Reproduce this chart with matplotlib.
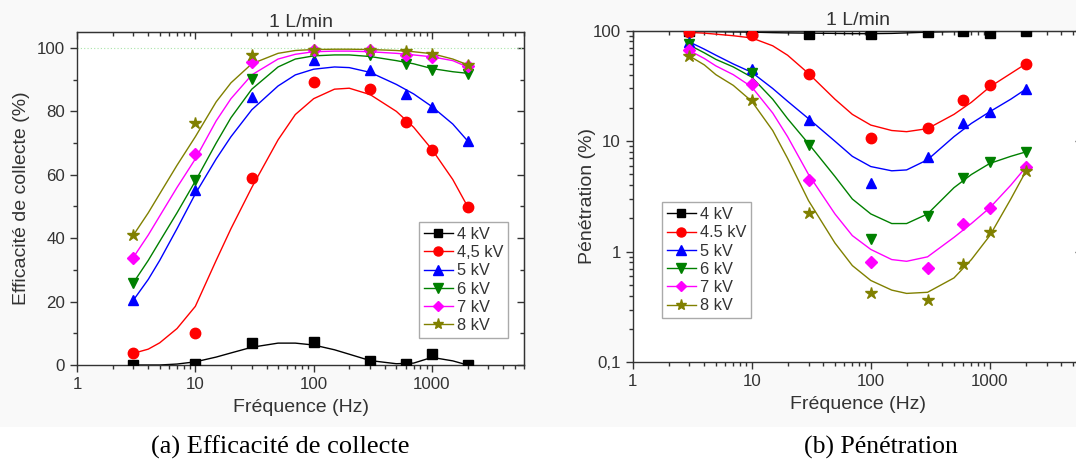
import matplotlib
matplotlib.use("Agg")
import matplotlib.pyplot as plt
from matplotlib.ticker import LogLocator, MultipleLocator, FixedLocator, NullFormatter, FixedFormatter
from matplotlib.patches import Rectangle
from matplotlib.lines import Line2D

plt.rcParams['font.family'] = ['Liberation Sans', 'DejaVu Sans']

# measured frequencies (Hz)
freq = [3, 10, 30, 100, 300, 600, 1000, 2000]
labels_a = ["4 kV", "4,5 kV", "5 kV", "6 kV", "7 kV", "8 kV"]
labels_b = ["4 kV", "4.5 kV", "5 kV", "6 kV", "7 kV", "8 kV"]

# collection efficiency (%) - measured points
eff_4 = [0, 0.4, 6.8, 7.2, 1.3, 0.2, 3.4, 0]
eff_45 = [3.7, 10, 59, 89.3, 86.9, 76.6, 67.8, 49.8]
eff_5 = [20.5, 55.1, 84.6, 96.1, 93.0, 85.4, 81.4, 70.7]
eff_6 = [26, 58.3, 90.2, 98.5, 97.7, 94.9, 93.0, 91.9]
eff_7 = [33.6, 66.7, 95.5, 99.3, 99.3, 97.9, 97.2, 94.2]
eff_8 = [40.9, 76.4, 97.9, 99.3, 99.5, 99.0, 98.2, 94.7]

# penetration (%) - measured points
pen_4 = [99, 98, 93, 93, 98, 99, 96, 99]
pen_45 = [96.6, 90.7, 40.4, 10.6, 13.1, 23.4, 32.1, 49.9]
pen_5 = [79.4, 45.3, 15.7, 4.15, 7.2, 14.6, 18.4, 29.5]
pen_6 = [75.6, 41.0, 9.2, 1.30, 2.11, 4.64, 6.54, 8.0]
pen_7 = [66.7, 32.7, 4.48, 0.805, 0.715, 1.78, 2.48, 5.8]
pen_8 = [59.3, 23.6, 2.23, 0.427, 0.369, 0.78, 1.5, 5.33]

# fitted curves
fit_freq = [3, 4, 5, 7, 10, 15, 20, 30, 50, 70, 100, 150, 200, 300, 500, 700, 1000, 1500, 2000]
fit_eff_4 = [0, 0, 0, 0.3, 1.0, 2.5, 3.8, 5.6, 6.9, 6.9, 6.3, 4.8, 3.4, 1.4, 0.4, 0.6, 2.4, 1.3, 0]
fit_eff_45 = [3.7, 5, 7, 11.5, 18.5, 33, 43, 56, 71, 79, 84, 87, 87.3, 85.3, 80, 75, 68, 58.5, 50]
fit_eff_5 = [20.5, 27, 33, 43, 54, 65, 72, 80.5, 88, 91.5, 93.3, 94, 93.8, 92.3, 88.5, 85.5, 81.5, 76, 70.7]
fit_eff_6 = [26, 33, 39, 48, 58, 70, 78, 87, 94, 96.5, 97.5, 97.8, 97.8, 97.3, 96, 95, 93.5, 92.5, 92]
fit_eff_7 = [34, 41, 47, 56, 65, 77, 84, 91.5, 96.5, 98, 98.8, 99, 99, 98.8, 98.3, 97.8, 97.2, 96, 94]
fit_eff_8 = [41, 48, 54, 63, 72, 83, 89, 95, 98.3, 99.2, 99.5, 99.6, 99.6, 99.5, 99.2, 98.8, 98.2, 96.5, 94.7]

fit_pen_4 = [99, 98.5, 98, 97.5, 97, 96, 95.5, 95, 94.5, 94, 94, 94.5, 95.5, 97, 98, 98.5, 98.5, 99, 99]
fit_pen_45 = [96.5, 95, 93, 90, 86, 73, 60, 41, 24, 17.5, 14, 12.5, 12.2, 13, 17.5, 22.5, 31, 41, 50]
fit_pen_5 = [79, 68, 60, 50, 42, 30, 23, 16, 10, 7.3, 5.9, 5.4, 5.5, 6.8, 11, 14.5, 18.5, 24, 29.5]
fit_pen_6 = [74, 63, 55, 47, 38, 24, 16, 9.5, 4.8, 3.0, 2.2, 1.8, 1.8, 2.2, 3.8, 5.0, 6.3, 7.3, 8.0]
fit_pen_7 = [66, 56, 48, 40, 31, 18, 11, 5, 2.2, 1.4, 1.05, 0.85, 0.82, 0.9, 1.35, 1.8, 2.5, 4, 5.8]
fit_pen_8 = [59, 49, 40, 32, 23, 12.5, 7, 2.9, 1.2, 0.75, 0.55, 0.45, 0.42, 0.43, 0.58, 0.85, 1.4, 3, 5.3]

colors = ["black", "#ff0000", "#0000ff", "#008000", "#ff00ff", "#808000"]
markers = ["s", "o", "^", "v", "D", "*"]
msizes = [6.5, 7.5, 7.5, 7.5, 6.5, 9]

eff_pts = [eff_4, eff_45, eff_5, eff_6, eff_7, eff_8]
eff_fits = [fit_eff_4, fit_eff_45, fit_eff_5, fit_eff_6, fit_eff_7, fit_eff_8]
pen_pts = [pen_4, pen_45, pen_5, pen_6, pen_7, pen_8]
pen_fits = [fit_pen_4, fit_pen_45, fit_pen_5, fit_pen_6, fit_pen_7, fit_pen_8]

TXT = "#333333"

fig = plt.figure(figsize=(10.76, 4.72), dpi=100)
fig.patches.append(Rectangle((0, 0.095), 1, 0.905, transform=fig.transFigure,
                             facecolor="#f9f9f9", edgecolor="none", zorder=-10))

ax1 = fig.add_axes([0.0716, 0.2267, 0.4154, 0.7053])
ax2 = fig.add_axes([0.588, 0.2324, 0.418, 0.7026])


def log_x(ax_axis):
    ax_axis.set_major_locator(FixedLocator([1, 10, 100, 1000]))
    ax_axis.set_minor_locator(LogLocator(base=10, subs=range(2, 10)))
    ax_axis.set_minor_formatter(NullFormatter())


def style_axis(ax, ymajor, yminor):
    for s in ax.spines.values():
        s.set_color(TXT)
        s.set_linewidth(1.0)
    ax.tick_params(which="both", direction="out", labelsize=12.2, colors=TXT, width=1)
    ax.tick_params(which="major", length=5)
    ax.tick_params(which="minor", length=3)
    # mirrored inward ticks on top and right
    top = ax.secondary_xaxis("top")
    log_x(top.xaxis)
    top.xaxis.set_major_formatter(NullFormatter())
    right = ax.secondary_yaxis("right")
    right.yaxis.set_major_locator(ymajor)
    right.yaxis.set_minor_locator(yminor)
    right.yaxis.set_major_formatter(NullFormatter())
    right.yaxis.set_minor_formatter(NullFormatter())
    for sec in (top, right):
        for s in sec.spines.values():
            s.set_color(TXT)
        sec.tick_params(which="both", direction="in", colors=TXT, width=1)
        sec.tick_params(which="major", length=5)
        sec.tick_params(which="minor", length=3)


# (a) collection efficiency
for i in range(6):
    ax1.plot(fit_freq, eff_fits[i], color=colors[i], lw=1.0, zorder=2)
    ax1.plot(freq, eff_pts[i], linestyle="none", marker=markers[i], color=colors[i],
             markersize=msizes[i], zorder=3)
ax1.axhline(100, color="#a8e6a8", lw=0.8, linestyle=(0, (1, 2)), zorder=1)
ax1.set_xscale("log")
ax1.set_xlim(1, 6000)
ax1.set_ylim(0, 105)
log_x(ax1.xaxis)
ax1.xaxis.set_major_formatter(FixedFormatter(["1", "10", "100", "1000"]))
ax1.yaxis.set_major_locator(MultipleLocator(20))
ax1.yaxis.set_minor_locator(MultipleLocator(10))
ax1.set_title("1 L/min", fontsize=14, color=TXT, pad=4)
ax1.set_xlabel("Fréquence (Hz)", fontsize=14, color=TXT, labelpad=5)
ax1.set_ylabel("Efficacité de collecte (%)", fontsize=14, color=TXT, labelpad=5)
style_axis(ax1, MultipleLocator(20), MultipleLocator(10))

# (b) penetration
for i in range(6):
    ax2.plot(fit_freq, pen_fits[i], color=colors[i], lw=1.0, zorder=2)
    ax2.plot(freq, pen_pts[i], linestyle="none", marker=markers[i], color=colors[i],
             markersize=msizes[i], zorder=3)
ax2.set_xscale("log")
ax2.set_yscale("log")
ax2.set_xlim(1, 6000)
ax2.set_ylim(0.1, 100)
log_x(ax2.xaxis)
ax2.xaxis.set_major_formatter(FixedFormatter(["1", "10", "100", "1000"]))
ax2.yaxis.set_major_locator(FixedLocator([0.1, 1, 10, 100]))
ax2.yaxis.set_major_formatter(FixedFormatter(["0,1", "1", "10", "100"]))
ax2.yaxis.set_minor_locator(LogLocator(base=10, subs=range(2, 10)))
ax2.yaxis.set_minor_formatter(NullFormatter())
ax2.set_title("1 L/min", fontsize=14, color=TXT, pad=4)
ax2.set_xlabel("Fréquence (Hz)", fontsize=14, color=TXT, labelpad=5)
ax2.set_ylabel("Pénétration (%)", fontsize=14, color=TXT, labelpad=-2)
style_axis(ax2, FixedLocator([0.1, 1, 10, 100]), LogLocator(base=10, subs=range(2, 10)))

# legends built from line+marker proxies
h_a = [Line2D([], [], color=colors[i], marker=markers[i], markersize=msizes[i] - 1, lw=1.0)
       for i in range(6)]
leg_kw = dict(fontsize=11.8, handlelength=1.75, handletextpad=0.25, labelspacing=0.2,
              borderpad=0.3, borderaxespad=0, fancybox=False, framealpha=1,
              edgecolor="#aaaaaa")
leg1 = ax1.legend(h_a, labels_a, loc="lower right", bbox_to_anchor=(0.964, 0.081), **leg_kw)
leg1.get_frame().set_linewidth(1.0)
leg2 = ax2.legend(h_a, labels_b, loc="upper left", bbox_to_anchor=(0.065, 0.483), **leg_kw)
leg2.get_frame().set_linewidth(1.0)
for leg in (leg1, leg2):
    for t in leg.get_texts():
        t.set_color(TXT)

fig.text(0.26, 0.053, "(a) Efficacité de collecte", family=["Liberation Serif", "DejaVu Serif"],
         fontsize=19, ha="center", va="center", color="black")
fig.text(0.819, 0.053, "(b) Pénétration", family=["Liberation Serif", "DejaVu Serif"],
         fontsize=18.5, ha="center", va="center", color="black")

fig.savefig("out.png", dpi=100)
